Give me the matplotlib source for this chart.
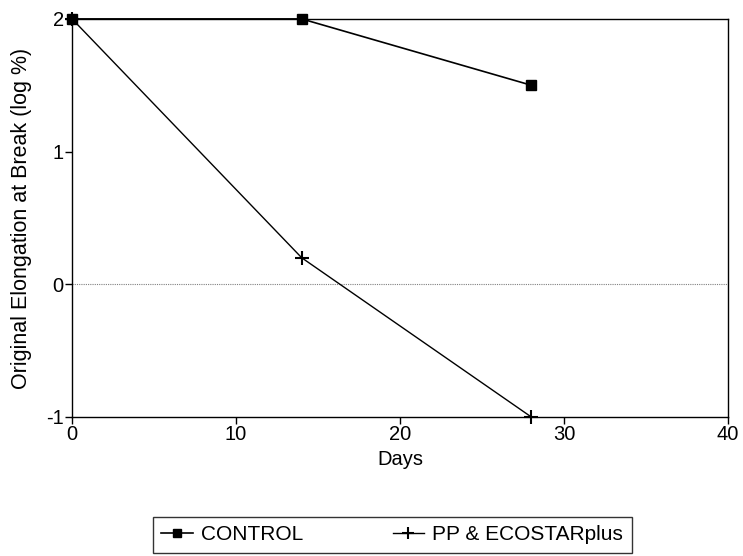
import matplotlib
matplotlib.use("Agg")
import matplotlib.pyplot as plt

plt.rcParams['font.family'] = ['Liberation Sans', 'DejaVu Sans']
plt.rcParams['axes.unicode_minus'] = False

days = [0, 14, 28]
control = [2, 2, 1.5]
pp_eco = [2, 0.2, -1]

fig = plt.figure(figsize=(7.43, 5.56), dpi=100)
ax = fig.add_axes([0.097, 0.25, 0.883, 0.716])

ax.axhline(0, color="gray", lw=0.8, ls=(0, (1, 1)), zorder=1)
ax.plot(days, control, color="black", lw=1.2, marker="s", markersize=7.5,
        label="CONTROL", clip_on=False, zorder=3)
ax.plot(days, pp_eco, color="black", lw=1.0, marker="+", markersize=10,
        markeredgewidth=1.5, label="PP & ECOSTARplus", clip_on=False, zorder=3)

ax.set_xlim(0, 40)
ax.set_ylim(-1, 2)
ax.set_xticks([0, 10, 20, 30, 40])
ax.set_yticks([-1, 0, 1, 2])
ax.tick_params(labelsize=14.5, length=5, width=1, pad=1)
for s in ax.spines.values():
    s.set_linewidth(1.0)
ax.set_xlabel("Days", fontsize=14.5, labelpad=4)
ax.set_ylabel("Original Elongation at Break (log %)", fontsize=15.5, labelpad=10)

leg = fig.legend(loc="center", bbox_to_anchor=(0.528, 0.038), ncol=2,
                 fontsize=15, frameon=True, fancybox=False, edgecolor="black",
                 columnspacing=4.3, handlelength=1.5, handletextpad=0.4,
                 borderpad=0.4, markerscale=0.8)
leg.get_frame().set_linewidth(1.0)

fig.savefig("out.png", dpi=100)
